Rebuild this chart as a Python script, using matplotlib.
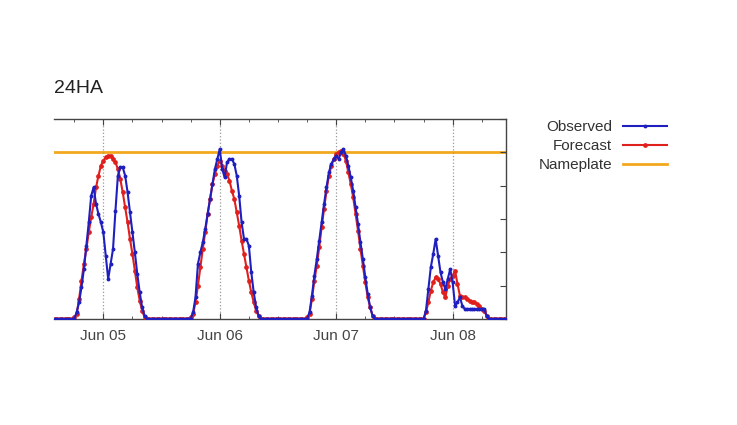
import numpy as np
import pandas as pd
import matplotlib
matplotlib.use("Agg")
import matplotlib.pyplot as plt
import matplotlib.dates as mdates

# half-hourly samples, Jun 04 14:00 -> Jun 08 11:00 (normalised to nameplate = 1.0)
start = "2014-06-04 14:00"
step = "30min"

observed = (
    [0] * 8
    + [0.0, 0.04, 0.10, 0.19, 0.30, 0.44, 0.58, 0.74, 0.79, 0.69, 0.63, 0.58,
       0.52, 0.38, 0.24, 0.33, 0.42, 0.65, 0.86, 0.91, 0.91, 0.86, 0.76, 0.64,
       0.52, 0.40, 0.27, 0.16, 0.07, 0.02]
    + [0] * 18
    + [0.0, 0.04, 0.13, 0.33, 0.40, 0.46, 0.54, 0.63, 0.72, 0.81, 0.90, 0.96,
       1.02, 0.90, 0.85, 0.94, 0.96, 0.96, 0.93, 0.86, 0.74, 0.58, 0.48, 0.48,
       0.44, 0.28, 0.16, 0.07, 0.02]
    + [0] * 19
    + [0.0, 0.04, 0.14, 0.26, 0.36, 0.47, 0.58, 0.69, 0.79, 0.88, 0.93, 0.96,
       0.98, 0.96, 1.00, 1.02, 0.98, 0.92, 0.85, 0.77, 0.67, 0.57, 0.46, 0.36,
       0.25, 0.15, 0.07, 0.02]
    + [0] * 21
    + [0.05, 0.18, 0.31, 0.39, 0.48, 0.38, 0.28, 0.22, 0.18, 0.24, 0.30, 0.22,
       0.08, 0.10, 0.13, 0.08, 0.06, 0.06, 0.06, 0.06, 0.06, 0.06, 0.06, 0.06,
       0.06, 0.02]
    + [0] * 8
)

forecast = (
    [0] * 8
    + [0.01, 0.03, 0.12, 0.23, 0.33, 0.42, 0.52, 0.61, 0.69, 0.79, 0.86, 0.92,
       0.95, 0.97, 0.98, 0.98, 0.96, 0.94, 0.90, 0.84, 0.76, 0.67, 0.58, 0.48,
       0.39, 0.29, 0.19, 0.11, 0.05, 0.01]
    + [0] * 18
    + [0.01, 0.03, 0.10, 0.20, 0.31, 0.42, 0.52, 0.63, 0.72, 0.81, 0.87, 0.92,
       0.95, 0.92, 0.89, 0.87, 0.83, 0.77, 0.72, 0.64, 0.56, 0.47, 0.39, 0.31,
       0.23, 0.16, 0.10, 0.05, 0.02]
    + [0] * 19
    + [0.01, 0.03, 0.12, 0.23, 0.32, 0.43, 0.55, 0.66, 0.77, 0.86, 0.92, 0.96,
       0.99, 1.00, 1.01, 0.99, 0.95, 0.88, 0.81, 0.73, 0.63, 0.53, 0.42, 0.32,
       0.22, 0.13, 0.07, 0.02]
    + [0] * 21
    + [0.04, 0.10, 0.17, 0.22, 0.25, 0.24, 0.21, 0.16, 0.13, 0.20, 0.24, 0.26,
       0.29, 0.21, 0.14, 0.13, 0.13, 0.12, 0.11, 0.10, 0.10, 0.09, 0.08, 0.06,
       0.05, 0.02]
    + [0] * 8
)

nameplate = 1.0
title = "24HA"

times = pd.date_range(start, periods=len(observed), freq=step)

plt.rcParams['font.family'] = ['Liberation Sans', 'DejaVu Sans']

fig = plt.figure(figsize=(7.37, 4.25), dpi=100)
ax = fig.add_axes([54 / 737, 1 - 319 / 425, 452 / 737, 200 / 425])

ax.axhline(nameplate, color='#f2a81d', lw=2, zorder=1, label='Nameplate')
ax.plot(times, forecast, color='#e0201c', lw=1.5, marker='o', ms=2.4,
        zorder=3, label='Forecast')
ax.plot(times, observed, color='#1f1fbf', lw=1.5, marker='o', ms=1.8,
        zorder=4, label='Observed')

ax.set_xlim(pd.Timestamp("2014-06-04 13:50"), pd.Timestamp("2014-06-08 11:00"))
ax.set_ylim(0, 1.2)

ax.xaxis.set_major_locator(mdates.DayLocator())
ax.xaxis.set_major_formatter(mdates.DateFormatter('%b %d'))
ax.xaxis.set_minor_locator(mdates.HourLocator(byhour=[6, 12, 18]))
ax.set_yticks(np.arange(0, 1.21, 0.2))
ax.yaxis.tick_right()
ax.tick_params(axis='y', which='both', direction='in', length=4,
               labelright=False, color='#444444')
ax.tick_params(axis='x', which='major', direction='in', length=4, top=True,
               labelsize=11, labelcolor='#444444', pad=7, color='#444444')
ax.tick_params(axis='x', which='minor', direction='in', length=2.5, top=True,
               color='#444444')
ax.grid(axis='x', which='major', ls=':', color='#999999', lw=0.9)

ax.spines['left'].set_visible(False)
for s in ('top', 'bottom', 'right'):
    ax.spines[s].set_color('#444444')
    ax.spines[s].set_linewidth(1.0)

ax.set_title(title, loc='left', fontsize=14, color='#222222', pad=19)

h, l = ax.get_legend_handles_labels()
order = [2, 1, 0]
leg = fig.legend([h[i] for i in order], [l[i] for i in order],
                 loc='upper right', bbox_to_anchor=(667 / 737, 1 - 120 / 425),
                 frameon=False, markerfirst=False, fontsize=11,
                 handlelength=2.9, handletextpad=0.7, labelspacing=0.33,
                 borderpad=0, borderaxespad=0)
for t in leg.get_texts():
    t.set_color('#333333')

fig.savefig("out.png", dpi=100)
